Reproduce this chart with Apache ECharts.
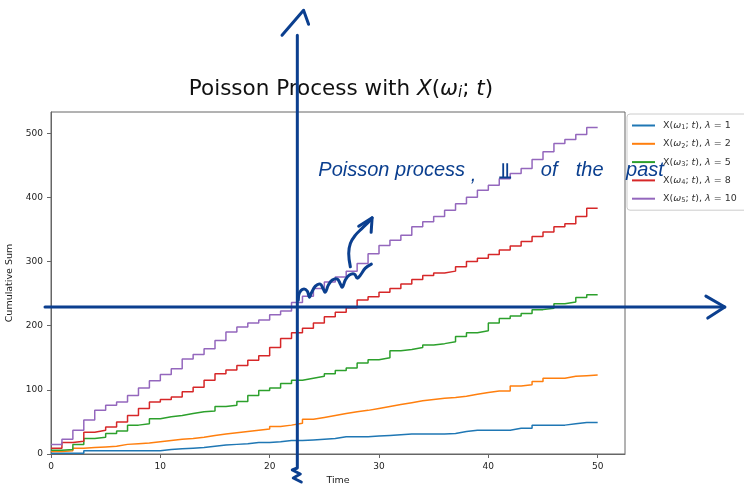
<!DOCTYPE html>
<html><head><meta charset="utf-8">
<script src="https://cdn.jsdelivr.net/npm/echarts@6/dist/echarts.min.js"></script>
<style>html,body{margin:0;padding:0;background:#fff}#c{width:744px;height:485px}</style>
</head><body><div id="c"></div>
<script>
// ---------- data ----------
const lambdas = [1, 2, 5, 8, 10];
const xTicks = [0, 10, 20, 30, 40, 50];
const yTicks = [0, 100, 200, 300, 400, 500];
// value of each unit step interval [k, k+1], k = 0..49
const steps1 = [1,1,1,5,5,5,5,5,5,5,7,8,9,10,12,14,15,16,18,18,19,21,
  21,22,23,24,27,27,27,28,29,30,31,31,31,31,
  32,35,37,37,37,37,40,40,45,45,45,47,49,49];
const steps2 = [4,5,9,10,11,12,15,16,17,19,21,23,24,26,29,31,33,35,37,39,43,45,
  48,54,57,60,63,66,68,71,74,77,80,83,85,87,
  88,90,93,96,98,98,106,108,113,118,118,121,122,123];
const steps5 = [6,7,15,24,26,32,36,45,47,55,58,60,63,66,67,74,76,82,91,99,103,110,
  115,118,121,125,130,134,142,147,150,161,163,166,170,172,
  175,183,189,192,204,211,215,219,225,227,234,237,244,248];
const steps8 = [9,18,20,34,37,42,50,60,71,81,85,89,97,104,115,125,131,138,146,153,166,180,
  189,196,204,214,221,228,240,245,252,258,265,272,278,282,
  285,292,300,305,311,318,324,331,339,346,354,359,370,383];
const steps10 = [15,23,37,53,68,76,81,91,103,114,124,133,148,155,164,177,190,198,204,209,217,223,
  236,246,258,268,276,285,297,312,325,333,341,354,362,370,
  380,390,400,411,419,429,437,445,459,471,484,490,498,509];
const allSteps = [steps1, steps2, steps5, steps8, steps10];
const colors = ['#1f77b4', '#ff7f0e', '#2ca02c', '#d62728', '#9467bd'];

// hand-drawn annotation paths, in data units (time, cumulative sum)
const annVertical = [[22.53,652.6],[22.53,-21.8],[22.07,-24.9],[22.8,-31.2],[22.16,-37.4],[22.89,-43.6]];
const annTopHead = [[21.13,652.6],[23.1,691.6],[23.56,669.8]];
const annHorizontal = [[-0.55,229],[61.63,229]];
const annRightHead = [[59.9,246.1],[61.63,229],[60.07,211.8]];
const annSquiggle = [[22.62,239.9],[22.71,250.8],[23.08,257.0],[23.44,253.9],[23.63,244.5],[23.81,250.8],
  [24.18,261.7],[24.63,264.8],[24.91,257.0],[25.09,252.3],[25.37,263.2],[25.73,271.0],[26.19,272.6],
  [26.47,264.8],[26.65,260.1],[26.92,271.0],[27.29,278.8],[27.75,280.4],[28.02,274.1],[28.30,278.8],
  [28.75,289.7],[29.30,296.0]];
const annCurve = [[27.38,291.7],[27.23,312.6],[27.38,328.2],[27.84,341.1],[28.45,351.6],[29.21,364.5],[29.37,368.1]];
const annCurveHead = [[28.14,355.1],[29.37,368.1],[29.28,345.5]];
const annTexts = [
  {t: 24.45, v: 442, s: 'Poisson process', up: false},
  {t: 38.4, v: 434, s: ',', up: false},
  {t: 41.0, v: 438, s: '\u2AEB', up: true},
  {t: 44.8, v: 442, s: 'of', up: false},
  {t: 48.0, v: 442, s: 'the', up: false},
  {t: 52.6, v: 442, s: 'past', up: false}
];

// ---------- chart ----------
const chart = echarts.init(document.getElementById('c'), null, {renderer: 'canvas'});
const FONT = 'DejaVu Sans';
const ink = '#0b3f8f';

const series = allSteps.map((st, i) => {
  const data = st.map((v, k) => [k, v]);
  data.push([st.length, st[st.length - 1]]);
  return {
    name: 'S' + i,
    type: 'line',
    step: 'end',
    data: data,
    showSymbol: false,
    symbol: 'none',
    lineStyle: {color: colors[i], width: 1.5},
    itemStyle: {color: colors[i]},
    emphasis: {disabled: true},
    z: 2 + i
  };
});

const richBase = (size) => ({
  r: {fontFamily: FONT, fontSize: size, color: '#333', lineHeight: 12},
  it: {fontFamily: FONT, fontSize: size, fontStyle: 'italic', color: '#333', lineHeight: 12},
  sub: {fontFamily: FONT, fontSize: size * 0.7, color: '#333', lineHeight: 12, padding: [4, 0, 0, 0]}
});

chart.setOption({
  animation: false,
  backgroundColor: '#fff',
  title: {
    text: '{r|Poisson Process with }{it|X}{r|(}{it|ω}{sub|i}{r|; }{it|t}{r|)}',
    left: 336,
    textAlign: 'center',
    top: 73,
    textStyle: {
      fontWeight: 'normal',
      rich: {
        r: {fontFamily: FONT, fontSize: 21.5, fontWeight: 'normal', color: '#111'},
        it: {fontFamily: FONT, fontSize: 21.5, fontWeight: 'normal', fontStyle: 'italic', color: '#111'},
        sub: {fontFamily: FONT, fontSize: 15, fontWeight: 'normal', fontStyle: 'italic', color: '#111', padding: [8, 0, 0, 0]}
      }
    }
  },
  legend: {
    orient: 'vertical',
    left: 627, top: 114,
    padding: [6, 30, 6, 5],
    itemGap: 7.3,
    itemWidth: 23, itemHeight: 2,
    icon: 'rect',
    backgroundColor: 'rgba(255,255,255,0.8)',
    borderColor: '#cccccc', borderWidth: 1, borderRadius: 3,
    data: series.map(s => s.name),
    formatter: (name) => {
      const i = +name.slice(1);
      return '{r|X(}{it|ω}{sub|' + (i + 1) + '}{r|; }{it|t}{r|), }{it|λ}{r| = ' + lambdas[i] + '}';
    },
    textStyle: {padding: [0, 0, 0, 3], rich: richBase(9.5)}
  },
  grid: {left: 51, right: 119, top: 112, bottom: 31, show: true, borderColor: '#666', borderWidth: 1,
    outerBoundsMode: 'none', containLabel: false},
  xAxis: {
    type: 'value', min: 0, max: 52.5,
    name: 'Time', nameLocation: 'middle', nameGap: 20,
    nameTextStyle: {fontFamily: FONT, fontSize: 9.5, color: '#222'},
    axisLine: {show: true, lineStyle: {color: '#666', width: 1}},
    axisTick: {show: true, length: 4, lineStyle: {color: '#666'}, customValues: xTicks},
    axisLabel: {fontFamily: FONT, fontSize: 9, color: '#222', margin: 8, customValues: xTicks},
    splitLine: {show: false}
  },
  yAxis: {
    type: 'value', min: 0, max: 533,
    name: 'Cumulative Sum', nameLocation: 'middle', nameGap: 28, nameRotate: 90,
    nameTextStyle: {fontFamily: FONT, fontSize: 9.5, color: '#222'},
    axisLine: {show: true, lineStyle: {color: '#666', width: 1}},
    axisTick: {show: true, length: 4, lineStyle: {color: '#666'}, customValues: yTicks},
    axisLabel: {fontFamily: FONT, fontSize: 9, color: '#222', margin: 8, customValues: yTicks},
    splitLine: {show: false}
  },
  series: series
});

// annotation overlay, placed through the axes
const toPx = (p) => chart.convertToPixel({gridIndex: 0}, p);
const stroke = (pts, smooth) => ({
  type: 'polyline', z: 100, silent: true,
  shape: {points: pts.map(toPx), smooth: smooth || 0},
  style: {stroke: ink, lineWidth: 3, fill: null, lineCap: 'round', lineJoin: 'round'}
});
const graphics = [
  stroke(annVertical), stroke(annTopHead), stroke(annHorizontal), stroke(annRightHead),
  stroke(annSquiggle, 0.4), stroke(annCurve, 0.4), stroke(annCurveHead)
];
annTexts.forEach(a => {
  const p = toPx([a.t, a.v]);
  const font = a.up ? 'bold 22px "DejaVu Sans"' : 'italic 20px "Liberation Sans", "DejaVu Sans"';
  graphics.push({
    type: 'text', z: 101, silent: true, x: p[0], y: p[1],
    style: {text: a.s, fill: ink, font: font,
      textAlign: 'left', textVerticalAlign: 'middle', align: 'left', verticalAlign: 'middle'}
  });
});
chart.setOption({graphic: graphics});
</script>
</body></html>
